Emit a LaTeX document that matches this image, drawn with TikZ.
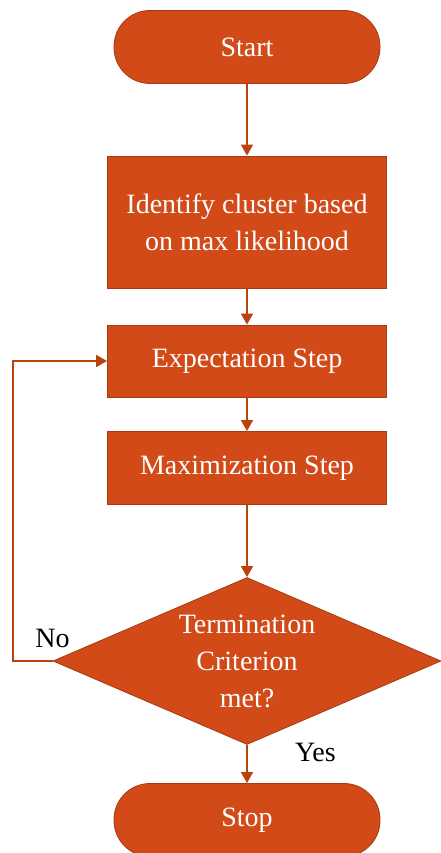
\documentclass[tikz,border=0pt]{standalone}
\usepackage{fontspec}
\setmainfont{Liberation Serif}
\usetikzlibrary{shapes.geometric, arrows.meta}

\definecolor{emfill}{HTML}{D14A18}
\definecolor{emline}{HTML}{A63A10}
\definecolor{emarrow}{HTML}{B8430F}

\begin{document}
\begin{tikzpicture}[x=1pt, y=-1pt,
    every node/.style={font=\fontsize{28}{37}\selectfont},
    block/.style={draw=emline, line width=0.8pt, fill=emfill, text=white,
      minimum width=279pt, align=center, inner sep=0pt},
    term/.style={block, minimum width=266pt, minimum height=73pt, rounded corners=36pt},
    decision/.style={diamond, draw=emline, line width=0.8pt, fill=emfill, text=white,
      minimum width=388pt, minimum height=167pt, shape aspect=2.34, inner sep=0pt, align=center},
    flow/.style={draw=emarrow, line width=1.4pt, -{Triangle[length=11pt, width=12pt]}}]
    \useasboundingbox (0,0) rectangle (441,853);

    \node[term] (start) at (247,47) {Start};
    \node[block, minimum height=132pt] (ident) at (247,222) {Identify cluster based\\on max likelihood};
    \node[block, minimum height=72pt] (estep) at (247,361) {Expectation Step};
    \node[block, minimum height=73pt] (mstep) at (247,468) {Maximization Step};
    \node[decision] (crit) at (247,661) {Termination\\Criterion\\met?};
    \node[term] (stop) at (247,820) {Stop};

    \coordinate (loop) at (13,661);

    \draw[flow] (start) -- (ident);
    \draw[flow] (ident) -- (estep);
    \draw[flow] (estep) -- (mstep);
    \draw[flow] (mstep) -- (crit);
    \draw[flow] (crit) -- node[right, xshift=44pt, yshift=12pt] (yes) {Yes} (stop);
    \draw[flow] (crit.west) -- (loop) |- (estep.west);
    \node[anchor=south, yshift=10pt] (no) at (crit.west) {No};
\end{tikzpicture}
\end{document}
